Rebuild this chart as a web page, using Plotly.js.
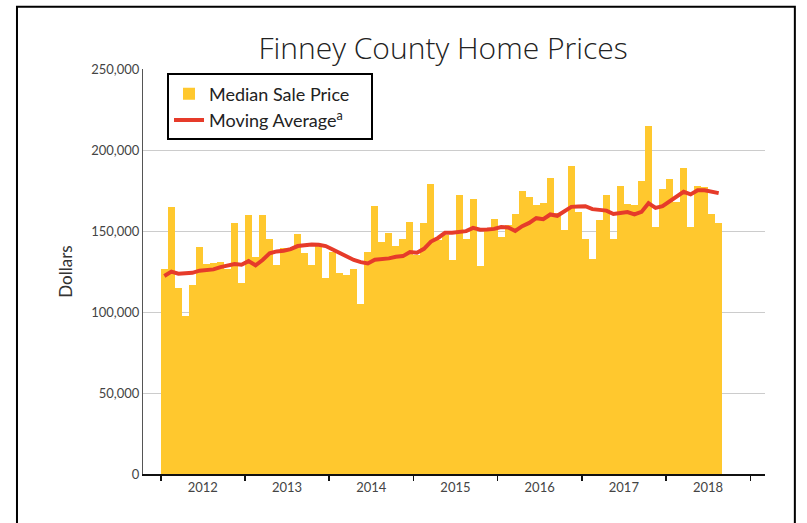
<!DOCTYPE html>
<html>
<head>
<meta charset="utf-8">
<script src="https://cdn.plot.ly/plotly-3.0.1.min.js"></script>
<style>
html, body { margin: 0; padding: 0; background: #ffffff; }
#chart { width: 807px; height: 523px; }
</style>
</head>
<body>
<div id="chart"></div>
<script>
// ---- Data ----
const years = ['2012', '2013', '2014', '2015', '2016', '2017', '2018'];
const monthNames = ['Jan', 'Feb', 'Mar', 'Apr', 'May', 'Jun', 'Jul', 'Aug', 'Sep', 'Oct', 'Nov', 'Dec'];

// Median sale price per month, Jan 2012 - Aug 2018 (dollars)
const medianSalePrice = [
  126300, 165100, 115000, 97500, 116500, 140000, 129800, 130200, 130600, 126300, 155000, 118100,
  160100, 133700, 159700, 144800, 129300, 139600, 139600, 148300, 136600, 129000, 142100, 120800,
  137300, 124000, 122800, 126700, 105200, 137100, 165400, 143200, 148500, 140700, 145100, 155600,
  135100, 155100, 179300, 144400, 147600, 132000, 172200, 145200, 170000, 128200, 150000, 157700,
  146200, 154000, 160200, 175000, 171200, 166000, 167100, 182700, 161000, 150700, 189900, 161600,
  144800, 132500, 157100, 172500, 144800, 178000, 166900, 165900, 181100, 215000, 152600, 176200,
  182100, 168000, 188700, 152600, 177800, 177000, 160200, 155200
];

// Moving average (dollars)
const movingAverage = [
  122200, 124900, 123600, 123800, 124200, 125500, 126100, 126300, 127700, 128800, 129600, 129200,
  131400, 128800, 132100, 136200, 137400, 137800, 138800, 140700, 141300, 141700, 141500, 140700,
  138600, 136600, 134100, 132100, 130800, 130000, 132300, 132500, 133100, 134100, 134500, 137000,
  136600, 139000, 143500, 145700, 148900, 148900, 149300, 149900, 151900, 150800, 150900, 151300,
  152500, 152200, 150000, 153000, 155000, 157900, 157300, 160200, 159400, 161800, 164900, 165200,
  165300, 163500, 163000, 162600, 160500, 161300, 161700, 160200, 161800, 167200, 164300, 165300,
  168400, 171400, 174200, 172600, 175200, 175200, 174500, 173400
];

const yTickValues = [0, 50000, 100000, 150000, 200000, 250000];

// ---- Derived helpers ----
const months = [];
years.forEach(function (y) { monthNames.forEach(function (m) { months.push(m + ' ' + y); }); });
const monthLabels = months.slice(0, medianSalePrice.length);
const xPos = monthLabels.map(function (_, i) { return i; });
const yearBoundaries = years.map(function (_, k) { return k * 12 - 0.5; }).concat([years.length * 12 - 0.5]);
const yearTickText = years.concat([' ']);

const FONT = 'Lato, "Open Sans", sans-serif';
const TITLE_FONT = '"Open Sans", Lato, sans-serif';
const xRange = [-3.04, 85.6];
const PAD = '\u00a0\u00a0\u00a0\u00a0\u00a0';

const traces = [
  {
    type: 'bar',
    name: 'Median Sale Price',
    x: xPos,
    y: medianSalePrice,
    customdata: monthLabels,
    hovertemplate: '%{customdata}: $%{y:,}<extra></extra>',
    marker: { color: '#FFC82E', line: { width: 0 } }
  },
  {
    type: 'scatter',
    mode: 'lines',
    name: 'Moving Average<sup>a</sup>' + PAD,
    x: xPos,
    y: movingAverage,
    customdata: monthLabels,
    hovertemplate: '%{customdata}: $%{y:,}<extra></extra>',
    line: { color: '#E63B2A', width: 4 }
  }
];

const layout = {
  width: 807,
  height: 523,
  margin: { l: 143, r: 42, t: 69, b: 49 },
  paper_bgcolor: '#ffffff',
  plot_bgcolor: '#ffffff',
  bargap: 0,
  showlegend: true,
  title: {
    text: 'Finney County Home Prices',
    font: { family: TITLE_FONT, size: 30, weight: 300, color: '#222222' },
    xref: 'container', x: 0.549, xanchor: 'center',
    yref: 'container', y: 0.908, yanchor: 'middle'
  },
  xaxis: {
    range: xRange,
    tickmode: 'array',
    tickvals: yearBoundaries,
    ticktext: yearTickText,
    ticklabelshift: 42,
    ticklabelstandoff: -4,
    ticks: 'outside',
    ticklen: 5,
    tickwidth: 1.5,
    tickcolor: '#111111',
    showline: true,
    linecolor: '#111111',
    linewidth: 1.5,
    showgrid: false,
    zeroline: false,
    fixedrange: true,
    tickfont: { family: FONT, size: 13, color: '#444444' }
  },
  xaxis2: {
    overlaying: 'x',
    anchor: 'y',
    range: xRange,
    tickmode: 'array',
    tickvals: yearBoundaries,
    ticks: 'inside',
    ticklen: 5,
    tickwidth: 1.5,
    tickcolor: '#111111',
    showticklabels: false,
    showline: false,
    showgrid: false,
    zeroline: false
  },
  yaxis: {
    range: [0, 250000],
    tickmode: 'array',
    tickvals: yTickValues,
    tickformat: ',d',
    ticks: '',
    showgrid: true,
    gridcolor: '#cccccc',
    gridwidth: 1,
    showline: true,
    linecolor: '#555555',
    linewidth: 1,
    zeroline: false,
    fixedrange: true,
    tickfont: { family: FONT, size: 13, color: '#444444' },
    title: { text: 'Dollars', font: { family: FONT, size: 17, color: '#333333' }, standoff: 14 }
  },
  legend: {
    x: 0.0386, y: 0.989, xanchor: 'left', yanchor: 'top',
    bgcolor: '#ffffff',
    bordercolor: '#000000',
    borderwidth: 2,
    font: { family: FONT, size: 18, color: '#222222' },
    tracegroupgap: 0
  },
  shapes: [
    {
      type: 'rect', xref: 'paper', yref: 'paper',
      x0: -0.2026, x1: 1.048, y0: -0.2, y1: 1.154,
      line: { color: '#000000', width: 2 },
      fillcolor: 'rgba(0,0,0,0)',
      layer: 'below'
    }
  ]
};

Plotly.newPlot('chart', traces, layout, { displayModeBar: false, staticPlot: true });
</script>
</body>
</html>
